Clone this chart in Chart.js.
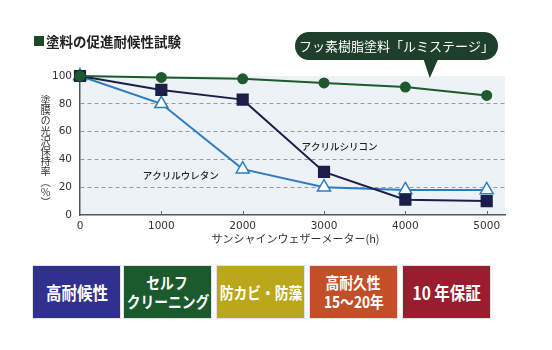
<!DOCTYPE html>
<html>
<head>
<meta charset="utf-8">
<script src="https://cdn.jsdelivr.net/npm/chart.js@4"></script>
<style>
  body { margin: 0; background: #fff; }
  #wrap { position: relative; width: 552px; height: 350px; background: #fff; }
  #chart-area { position: absolute; left: 0; top: 0; }
  #ytitle {
    position: absolute; left: 39px; top: 95px; writing-mode: vertical-rl;
    font-family: "Noto Sans CJK JP", sans-serif; font-size: 10.2px; line-height: 12px; color: #333;
  }
  .badge {
    position: absolute; top: 266px; width: 87px; height: 52px;
    color: #fff; font-family: "Noto Sans CJK JP", sans-serif; font-weight: 700;
    display: flex; flex-direction: column; align-items: center; justify-content: center;
    text-align: center; line-height: 19px; box-shadow: 0 0 0 1px #e4e4e4;
  }
  .badge span { display: inline-block; white-space: nowrap; transform: scaleX(0.86); }
</style>
</head>
<body>
<div id="wrap">
  <canvas id="chart-area" width="552" height="250"></canvas>
  <div id="ytitle">塗膜の光沢保持率（％）</div>
  <div id="badges"></div>
</div>
<script>
var hours = [0, 1000, 2000, 3000, 4000, 5000];
var lumistage = [100, 99, 98, 95, 92, 86];
var acrylSilicon = [100, 90, 83, 31, 11, 10];
var acrylUrethan = [100, 80, 33, 20, 18, 18];
var xTicks = [0, 1000, 2000, 3000, 4000, 5000];
var yTicks = [0, 20, 40, 60, 80, 100];

var badgeTexts = [["高耐候性"], ["セルフ", "クリーニング"], ["防カビ・防藻"], ["高耐久性", "15～20年"], ["10 年保証"]];
var badgeColors = ["#30318f", "#1b5a2c", "#bba71c", "#c24f27", "#9a1c2f"];
var badgeLeft = [33, 124, 217, 310, 403];

var pts = function(vals) {
    return hours.map(function(h, i) { return {x: h, y: vals[i]}; });
};

var FONT = '"Noto Sans CJK JP", sans-serif';
var NUMFONT = '"DejaVu Sans", sans-serif';

var decor = {
    id: 'decor',
    beforeDraw: function(chart) {
        var ctx = chart.ctx, a = chart.chartArea;
        ctx.save();
        ctx.fillStyle = '#edf2f6';
        ctx.fillRect(a.left, a.top, a.right - a.left, a.bottom - a.top);
        ctx.restore();
    },
    beforeDatasetsDraw: function(chart) {
        var ctx = chart.ctx, a = chart.chartArea;
        var xs = chart.scales.x;
        // tick marks point up into the plot
        ctx.save();
        ctx.strokeStyle = '#666';
        ctx.lineWidth = 1;
        xTicks.slice(1).forEach(function(t) {
            var px = Math.round(xs.getPixelForValue(t)) + 0.5;
            ctx.beginPath();
            ctx.moveTo(px, a.bottom);
            ctx.lineTo(px, a.bottom - 4);
            ctx.stroke();
        });
        ctx.restore();
    },
    afterDraw: function(chart) {
        var ctx = chart.ctx, a = chart.chartArea;
        var xs = chart.scales.x, ys = chart.scales.y;
        ctx.save();
        // title
        ctx.textBaseline = 'middle';
        ctx.fillStyle = '#1b4a26';
        ctx.fillRect(34, 36, 10, 10);
        ctx.fillStyle = '#222';
        ctx.font = '600 13.5px ' + FONT;
        ctx.textAlign = 'left';
        ctx.fillText('塗料の促進耐候性試験', 46, 41.5);

        // x title
        ctx.textAlign = 'center';
        ctx.fillStyle = '#333';
        ctx.font = '11px ' + FONT;
        ctx.fillText('サンシャインウェザーメーター(h)', (a.left + a.right) / 2 + 3, 239);

        // series labels
        ctx.font = '500 9.5px ' + FONT;
        ctx.fillStyle = '#222';
        ctx.fillText('アクリルウレタン', xs.getPixelForValue(1240), ys.getPixelForValue(28.6));
        ctx.fillText('アクリルシリコン', xs.getPixelForValue(3190), ys.getPixelForValue(49.5));

        // callout bubble
        var tipX = xs.getPixelForValue(4300), tipY = ys.getPixelForValue(98.5);
        var bx = 295, by = 32, bw = 203, bh = 28, r = 14;
        ctx.fillStyle = '#1e3f29';
        ctx.beginPath();
        ctx.moveTo(bx + r, by);
        ctx.lineTo(bx + bw - r, by);
        ctx.arc(bx + bw - r, by + r, r, -Math.PI / 2, Math.PI / 2);
        ctx.lineTo(tipX + 8, by + bh);
        ctx.lineTo(tipX, tipY);
        ctx.lineTo(tipX - 6, by + bh);
        ctx.lineTo(bx + r, by + bh);
        ctx.arc(bx + r, by + r, r, Math.PI / 2, Math.PI * 1.5);
        ctx.closePath();
        ctx.fill();
        ctx.fillStyle = '#fff';
        ctx.font = '13px ' + FONT;
        ctx.fillText('フッ素樹脂塗料「ルミステージ」', bx + bw / 2, by + bh / 2 + 0.5);
        ctx.restore();
    }
};

var config = {
    type: 'line',
    data: {
        datasets: [{
            label: 'ルミステージ',
            data: pts(lumistage),
            borderColor: '#1d5a2e',
            backgroundColor: '#1d5a2e',
            borderWidth: 2,
            pointStyle: 'circle',
            pointRadius: 4.5,
            clip: false
        }, {
            label: 'アクリルシリコン',
            data: pts(acrylSilicon),
            borderColor: '#1a1e48',
            backgroundColor: '#1a1e48',
            borderWidth: 2,
            pointStyle: 'rect',
            pointRadius: 7.2,
            clip: false
        }, {
            label: 'アクリルウレタン',
            data: pts(acrylUrethan),
            borderColor: '#2b7cc2',
            backgroundColor: '#ffffff',
            borderWidth: 2,
            pointStyle: 'triangle',
            pointRadius: 7.5,
            pointBorderWidth: 1.5,
            clip: false
        }]
    },
    options: {
        responsive: false,
        animation: false,
        layout: { padding: { left: 0, right: 47, top: 76, bottom: 0 } },
        plugins: { legend: { display: false }, tooltip: { enabled: false } },
        scales: {
            x: {
                type: 'linear',
                min: 0,
                max: 5225,
                afterFit: function(s) { s.height = 35; },
                afterBuildTicks: function(s) { s.ticks = xTicks.map(function(v) { return {value: v}; }); },
                ticks: {
                    padding: 5, color: '#333', font: { family: NUMFONT, size: 10.5 },
                    callback: function(v) { return String(v); }
                },
                grid: { display: false, drawTicks: false },
                border: { color: '#555', width: 1.5 }
            },
            y: {
                min: 0,
                max: 100,
                afterFit: function(s) { s.width = 80; },
                afterBuildTicks: function(s) { s.ticks = yTicks.map(function(v) { return {value: v}; }); },
                ticks: {
                    padding: 8, color: '#333', font: { family: NUMFONT, size: 10.5 },
                    callback: function(v) { return String(v); }
                },
                grid: {
                    drawTicks: false,
                    color: function(c) { return (c.tick && (c.tick.value === 0 || c.tick.value === 100)) ? 'rgba(0,0,0,0)' : '#9a9a9a'; },
                    lineWidth: 1
                },
                border: { color: '#555', width: 1.5, dash: [4, 3] }
            }
        }
    },
    plugins: [decor]
};

var ctx = document.getElementById("chart-area").getContext("2d");
var myChart = new Chart(ctx, config);

var badges = document.getElementById('badges');
badgeTexts.forEach(function(lines, i) {
    var d = document.createElement('div');
    d.className = 'badge';
    d.style.left = badgeLeft[i] + 'px';
    d.style.background = badgeColors[i];
    d.style.fontSize = (lines.length > 1 || i === 2) ? '16px' : '18px';
    lines.forEach(function(t) {
        var s = document.createElement('span');
        s.textContent = t;
        d.appendChild(s);
    });
    badges.appendChild(d);
});
</script>
</body>
</html>
